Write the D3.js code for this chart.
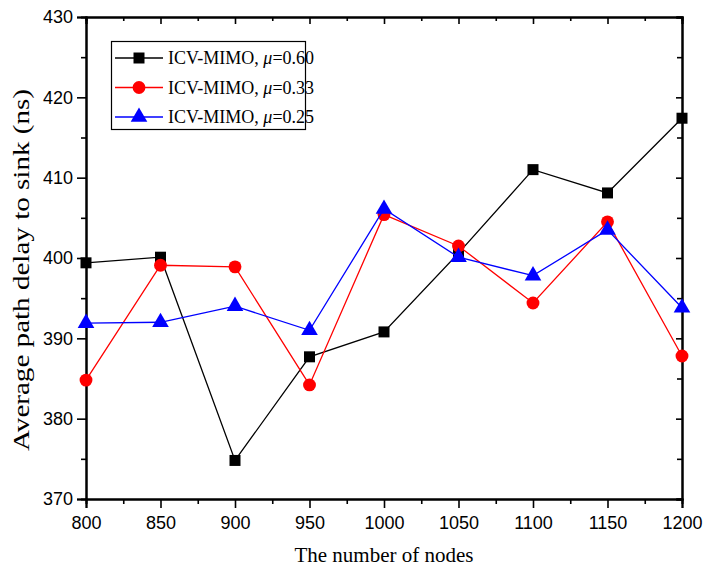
<!DOCTYPE html>
<html><head><meta charset="utf-8">
<script src="https://cdn.jsdelivr.net/npm/d3@7"></script>
<style>body{margin:0;background:#fff}svg{display:block}</style>
</head><body>
<script>
const nodes = [800, 850, 900, 950, 1000, 1050, 1100, 1150, 1200];
const mu060 = [399.4, 400.1, 374.8, 387.7, 390.8, 400.6, 411.0, 408.1, 417.4];
const mu033 = [384.8, 399.1, 398.9, 384.2, 405.4, 401.5, 394.4, 404.5, 387.8];
const mu025 = [391.9, 392.0, 394.0, 391.0, 406.1, 400.1, 397.8, 403.5, 393.8];
const xTicks = [800, 850, 900, 950, 1000, 1050, 1100, 1150, 1200];
const yTicks = [370, 380, 390, 400, 410, 420, 430];
const seriesNames = ["0.60", "0.33", "0.25"];
const colors = ["#000000", "#ff0000", "#0000ff"];
const symbols = [d3.symbolSquare, d3.symbolCircle, d3.symbolTriangle];
const symSizes = [121, 130, 120];

const W = 707, H = 576;
const m = {l: 86, r: 25, t: 17, b: 77};
const svg = d3.select("body").append("svg").attr("width", W).attr("height", H);
const x = d3.scaleLinear().domain([800, 1200]).range([m.l, W - m.r]);
const y = d3.scaleLinear().domain([370, 430]).range([H - m.b, m.t]);

const minorX = d3.range(825, 1200, 50);
const minorY = d3.range(375, 430, 10);

// bottom axis
svg.append("g").attr("transform", `translate(0,${H - m.b})`)
  .call(d3.axisBottom(x).tickValues(xTicks).tickSize(9).tickPadding(8).tickFormat(d3.format("d")));
svg.append("g").attr("transform", `translate(0,${H - m.b})`)
  .call(d3.axisBottom(x).tickValues(minorX).tickSize(5).tickFormat(""));
// left axis
svg.append("g").attr("transform", `translate(${m.l},0)`)
  .call(d3.axisLeft(y).tickValues(yTicks).tickSize(9).tickPadding(4).tickFormat(d3.format("d")));
svg.append("g").attr("transform", `translate(${m.l},0)`)
  .call(d3.axisLeft(y).tickValues(minorY).tickSize(5).tickFormat(""));
// top axis (inward)
svg.append("g").attr("transform", `translate(0,${m.t})`)
  .call(d3.axisTop(x).tickValues(xTicks).tickSize(-7).tickFormat(""));
svg.append("g").attr("transform", `translate(0,${m.t})`)
  .call(d3.axisTop(x).tickValues(minorX).tickSize(-4).tickFormat(""));
// right axis (inward)
svg.append("g").attr("transform", `translate(${W - m.r},0)`)
  .call(d3.axisRight(y).tickValues(yTicks).tickSize(-6).tickFormat(""));
svg.append("g").attr("transform", `translate(${W - m.r},0)`)
  .call(d3.axisRight(y).tickValues(minorY).tickSize(-5).tickFormat(""));

svg.selectAll(".domain").attr("stroke", "#000").attr("stroke-width", 2);
svg.selectAll(".tick line").attr("stroke", "#000").attr("stroke-width", 1.6);
svg.selectAll(".tick text").attr("font-family", "Liberation Sans, Arial, sans-serif")
  .attr("font-size", 18).attr("fill", "#000");

// data series
const allSeries = [mu060, mu033, mu025];
allSeries.forEach((vals, i) => {
  const pts = nodes.map((n, j) => [n, vals[j]]);
  svg.append("path").datum(pts)
    .attr("fill", "none").attr("stroke", colors[i]).attr("stroke-width", 1.3)
    .attr("d", d3.line().x(d => x(d[0])).y(d => y(d[1])));
  svg.append("g").selectAll("path").data(pts).join("path")
    .attr("transform", d => `translate(${x(d[0])},${y(d[1])})`)
    .attr("d", d3.symbol().type(symbols[i]).size(symSizes[i]))
    .attr("fill", colors[i]);
});

// legend
const lg = svg.append("g");
lg.append("rect").attr("x", 111.5).attr("y", 41.5).attr("width", 194).attr("height", 88)
  .attr("fill", "#fff").attr("stroke", "#000").attr("stroke-width", 1.2);
seriesNames.forEach((name, i) => {
  const yy = 58 + i * 29.5;
  lg.append("line").attr("x1", 115).attr("x2", 163).attr("y1", yy).attr("y2", yy)
    .attr("stroke", colors[i]).attr("stroke-width", 1.3);
  lg.append("path").attr("transform", `translate(139,${yy})`)
    .attr("d", d3.symbol().type(symbols[i]).size(symSizes[i])).attr("fill", colors[i]);
  const t = lg.append("text").attr("x", 168).attr("y", yy + 6)
    .attr("font-family", "Liberation Serif, Times New Roman, serif").attr("font-size", 18).attr("fill", "#000");
  t.append("tspan").text("ICV-MIMO, ");
  t.append("tspan").attr("font-style", "italic").text("μ");
  t.append("tspan").text("=" + name);
});

// axis titles
svg.append("text").attr("x", (m.l + W - m.r) / 2).attr("y", 562).attr("text-anchor", "middle")
  .attr("font-family", "Liberation Serif, Times New Roman, serif").attr("font-size", 21).text("The number of nodes");
svg.append("text").attr("transform", `translate(29,270) rotate(-90)`).attr("text-anchor", "middle")
  .attr("font-family", "Liberation Serif, Times New Roman, serif").attr("font-size", 23)
  .attr("textLength", 362).attr("lengthAdjust", "spacingAndGlyphs")
  .text("Average path delay to sink (ns)");
</script>
</body></html>
